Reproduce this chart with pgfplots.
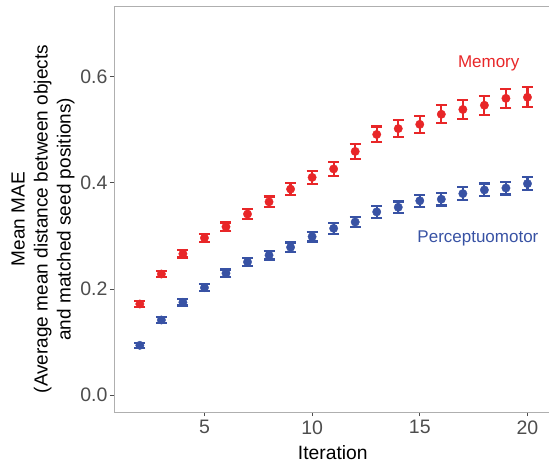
\documentclass[border=0pt]{standalone}
\usepackage{pgfplots}
\pgfplotsset{compat=1.18}
\usepackage{fontspec}
\setmainfont{Liberation Sans}
\definecolor{memred}{RGB}{232,38,40}
\definecolor{perblue}{RGB}{56,82,164}
\definecolor{tickgray}{RGB}{77,77,77}
\definecolor{axgray}{RGB}{175,175,175}
\begin{document}
\begin{tikzpicture}
\begin{axis}[
  name=ax,
  scale only axis,
  width=435pt, height=406pt,
  xmin=0.8, xmax=21, ymin=-0.032, ymax=0.733,
  xtick={5,10,15,20},
  ytick={0,0.2,0.4,0.6},
  yticklabel style={/pgf/number format/fixed,/pgf/number format/fixed zerofill,/pgf/number format/precision=1, xshift=1pt},
  xticklabel style={yshift=-1pt},
  /pgf/number format/assume math mode=true,
  tick label style={font=\fontsize{19.5}{22}\selectfont, text=tickgray},
  axis line style={axgray, line width=0.8pt},
  tick style={tickgray, line width=0.6pt},
  tick align=outside,
  major tick length=4pt,
  xtick pos=bottom, ytick pos=left,
  axis x line*=bottom, axis y line*=left,
  xlabel={Iteration},
  xlabel style={font=\fontsize{19.3}{22}\selectfont, at={(axis description cs:0.503,-0.1158)}, anchor=base},
  ylabel={Mean MAE\\(Average mean distance between objects\\and matched seed positions)},
  ylabel style={font=\fontsize{19}{23}\selectfont, align=center, at={(axis description cs:-0.163,0.475)}, anchor=center, rotate=0},
  clip=false,
]
\draw[axgray, line width=0.8pt] (axis cs:0.8,0.733) -- (axis cs:21,0.733);
\addplot[only marks, mark=*, mark size=4.2pt, color=memred,
  error bars/.cd, y dir=both, y explicit,
  error bar style={line width=2.2pt, draw=memred},
  error mark options={mark size=5.5pt, line width=2.2pt, draw=memred, rotate=90}]
  table[x=x, y=y, y error=e] {
x y e
2 0.1715 0.006
3 0.228 0.006
4 0.266 0.007
5 0.296 0.007
6 0.317 0.008
7 0.341 0.009
8 0.364 0.010
9 0.388 0.011
10 0.410 0.012
11 0.426 0.013
12 0.459 0.014
13 0.491 0.015
14 0.502 0.016
15 0.510 0.016
16 0.529 0.017
17 0.538 0.018
18 0.546 0.018
19 0.559 0.018
20 0.561 0.019
};
\addplot[only marks, mark=*, mark size=4.2pt, color=perblue,
  error bars/.cd, y dir=both, y explicit,
  error bar style={line width=2.2pt, draw=perblue},
  error mark options={mark size=5.5pt, line width=2.2pt, draw=perblue, rotate=90}]
  table[x=x, y=y, y error=e] {
x y e
2 0.0936 0.005
3 0.1414 0.005
4 0.1747 0.006
5 0.2023 0.007
6 0.2294 0.007
7 0.2507 0.008
8 0.2633 0.008
9 0.2784 0.009
10 0.2984 0.009
11 0.314 0.010
12 0.326 0.010
13 0.345 0.011
14 0.3538 0.011
15 0.366 0.011
16 0.369 0.012
17 0.3795 0.012
18 0.3864 0.012
19 0.390 0.012
20 0.3983 0.012
};
\node[font=\fontsize{17}{20}\selectfont, text=memred, anchor=base] at (axis cs:18.2,0.618) {Memory};
\node[font=\fontsize{17}{20}\selectfont, text=perblue, anchor=base] at (axis cs:17.7,0.288) {Perceptuomotor};
\end{axis}
\pgfresetboundingbox
\path ([xshift=-114pt,yshift=-54pt]ax.south west) rectangle ([yshift=6pt]ax.north east);
\end{tikzpicture}
\end{document}
